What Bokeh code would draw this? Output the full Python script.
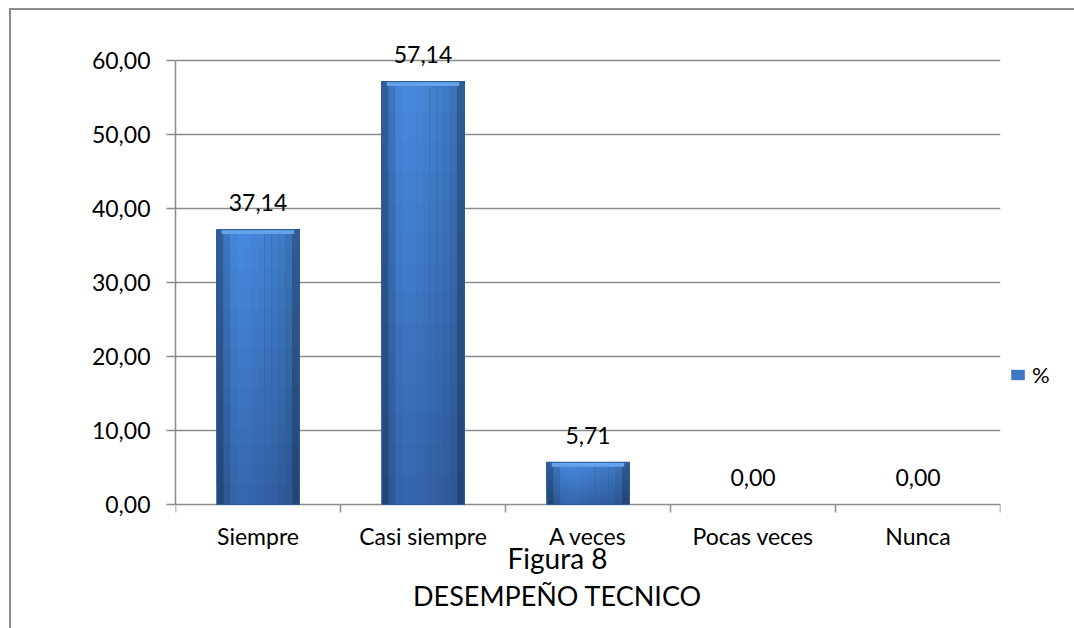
from bokeh.plotting import figure
from bokeh.models import (Range1d, FixedTicker, ColumnDataSource, LabelSet,
                          Legend, LegendItem)
from bokeh.core.properties import value
from bokeh.embed import file_html
from bokeh.resources import INLINE

# ---- data ----
categories = ["Siempre", "Casi siempre", "A veces", "Pocas veces", "Nunca"]
values = [37.14, 57.14, 5.71, 0.00, 0.00]
y_ticks = [0, 10, 20, 30, 40, 50, 60]
y_tick_labels = ["0,00", "10,00", "20,00", "30,00", "40,00", "50,00", "60,00"]
series_name = "%"
title_line1 = "Figura 8"
title_line2 = "DESEMPEÑO TECNICO"

FONT = "Lato"
GRAY = "#8c8c8c"

n = len(categories)
# layout in page pixels
ppu = 444 / 60.0            # pixels per value unit
plot_top, axis_y, frame_bot = 20, 504, 628
y_max = y_ticks[-1] + (60 - plot_top) / ppu
y_min = -(frame_bot - axis_y) / ppu


def px_below(py):
    """page y (below the axis) -> data y"""
    return -(py - axis_y) / ppu


p = figure(width=1063, height=618, output_backend="svg", toolbar_location=None,
           x_range=Range1d(0, n), y_range=Range1d(y_min, y_max),
           x_axis_location=None,
           min_border_left=164, min_border_right=74, min_border_top=10,
           min_border_bottom=0, frame_width=825, frame_height=frame_bot - plot_top)
p.styles = {"border-top": "2px solid #8c8c8c", "border-left": "2px solid #8c8c8c",
            "margin-top": "8px", "margin-left": "9px"}
p.outline_line_color = None
p.background_fill_color = "white"
p.border_fill_color = "white"

# grid (the 0 line doubles as the category axis line)
p.xgrid.visible = False
p.ygrid.ticker = FixedTicker(ticks=y_ticks)
p.ygrid.grid_line_color = GRAY
p.ygrid.grid_line_width = 1.5

# y axis
ya = p.yaxis[0]
ya.ticker = FixedTicker(ticks=y_ticks)
ya.bounds = (y_ticks[0], y_ticks[-1])
ya.major_label_overrides = {t: l for t, l in zip(y_ticks, y_tick_labels)}
ya.axis_line_color = GRAY
ya.axis_line_width = 1.5
ya.major_tick_line_color = GRAY
ya.major_tick_line_width = 1.5
ya.major_tick_out = 9
ya.major_tick_in = 0
ya.minor_tick_line_color = None
ya.major_label_text_font = FONT
ya.major_label_text_font_size = "23px"
ya.major_label_text_color = "black"
ya.major_label_standoff = 16

# category ticks (boundaries) and labels (centres)
centers = [i + 0.5 for i in range(n)]
bounds_x = list(range(n + 1))
p.segment(x0=bounds_x, y0=[0] * (n + 1), x1=bounds_x, y1=[px_below(axis_y + 8)] * (n + 1),
          line_color=GRAY, line_width=1.5)
p.text(x=centers, y=[px_below(535)] * n, text=categories,
       text_font=value(FONT), text_font_size=value("23px"), text_color="black",
       text_align="center", text_baseline="middle")


# ---- bars with simulated gradient ----
def mix(c1, c2, t):
    return tuple(a + (b - a) * t for a, b in zip(c1, c2))


def hexc(c):
    return "#%02x%02x%02x" % tuple(max(0, min(255, int(round(v)))) for v in c)


top_col = (68, 132, 212)
bot_col = (50, 97, 165)
profile = [0.72, 0.90, 1.02, 1.05, 1.04, 1.02, 1.0, 0.98, 0.96, 0.93, 0.88, 0.70]
NS = len(profile)
M = 14
bar_w = 0.5
slice_w = bar_w / NS

L, R, B, T, C = [], [], [], [], []
for i, v in enumerate(values):
    if v <= 0:
        continue
    x0 = centers[i] - bar_w / 2
    x1 = centers[i] + bar_w / 2
    for k, m in enumerate(profile):
        for j in range(M):
            t = (j + 0.5) / M
            base = mix(bot_col, top_col, t)
            L.append(x0 + k * slice_w)
            R.append(x1)
            B.append(v * j / M)
            T.append(v)
            C.append(hexc(tuple(ch * m for ch in base)))

src = ColumnDataSource(dict(left=L, right=R, bottom=B, top=T, color=C))
p.quad(left="left", right="right", bottom="bottom", top="top", source=src,
       fill_color="color", line_color=None)

# top bevel highlight
pos = [i for i, v in enumerate(values) if v > 0]
p.vbar(x=[centers[i] for i in pos], width=bar_w * 0.88,
       top=[values[i] for i in pos], bottom=[values[i] - 0.6 for i in pos],
       fill_color="#64a3ea", line_color=None)

# bar outline
p.vbar(x=[centers[i] for i in pos], width=bar_w, top=[values[i] for i in pos],
       bottom=0, fill_color=None, line_color="#2f5b96", line_width=1)

# data labels
lab_src = ColumnDataSource(dict(x=centers, y=values,
                                text=[f"{v:.2f}".replace(".", ",") for v in values]))
p.add_layout(LabelSet(x="x", y="y", text="text", source=lab_src,
                      y_offset=27, text_align="center", text_baseline="middle",
                      text_font=value(FONT), text_font_size=value("23px"),
                      text_color="black"))

# legend (right panel)
dummy = p.vbar(x=[centers[0]], width=0.5, top=[0], bottom=[0],
               fill_color="#3d78c4", line_color=None)
legend = Legend(items=[LegendItem(label=series_name, renderers=[dummy])],
                location=(9, frame_bot - 388), padding=0, margin=0,
                border_line_color=None, background_fill_alpha=0,
                glyph_width=17, glyph_height=13, label_standoff=6,
                label_text_font=FONT, label_text_font_size="22px",
                label_text_color="black")
p.add_layout(legend, "right")

# titles under the chart
title_x = (557 - 175) / 165
p.text(x=[title_x], y=[px_below(557)], text=[title_line1],
       text_font=value(FONT), text_font_size=value("28px"), text_color="black",
       text_align="center", text_baseline="middle")
p.text(x=[title_x], y=[px_below(595)], text=[title_line2],
       text_font=value(FONT), text_font_size=value("27px"), text_color="black",
       text_align="center", text_baseline="middle")

open("out.html", "w").write(file_html(p, INLINE))
